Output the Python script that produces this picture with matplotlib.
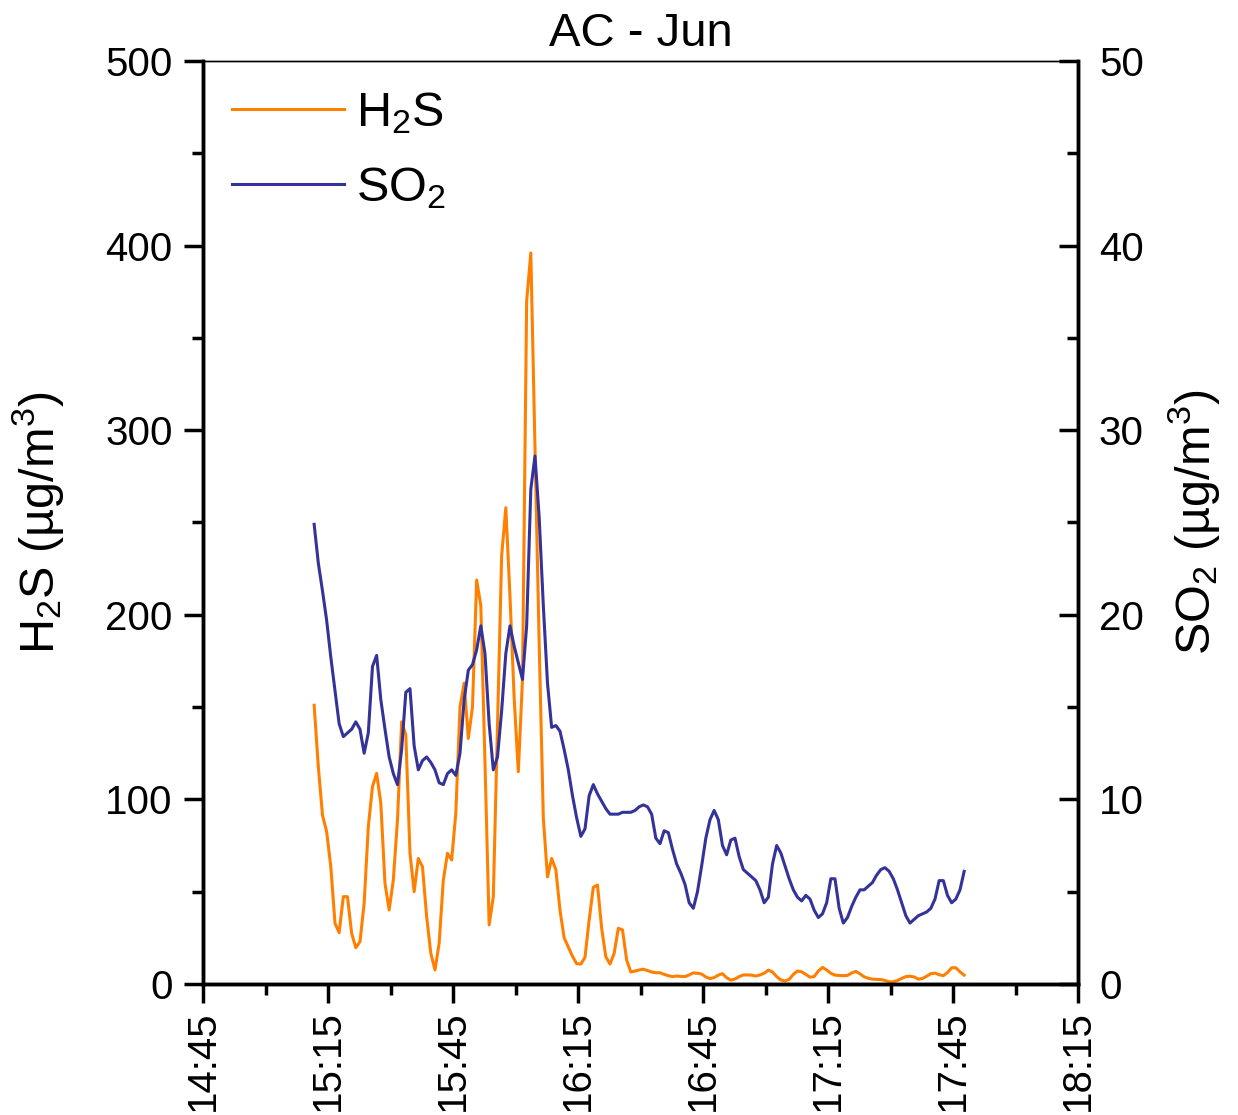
import matplotlib
matplotlib.use("Agg")
import matplotlib.pyplot as plt
from matplotlib.ticker import MultipleLocator, FixedLocator
from matplotlib.lines import Line2D
import numpy as np

plt.rcParams['font.family'] = ['Liberation Sans', 'DejaVu Sans']
plt.rcParams['mathtext.fontset'] = 'custom'
plt.rcParams['mathtext.rm'] = 'Liberation Sans'
plt.rcParams['mathtext.it'] = 'Liberation Sans:italic'

title = "AC - Jun"
start_time = "15:11:40"      # first sample, one sample per minute
h2s = [151, 117.7, 91.5, 82.5, 63.5, 32.9, 27.8, 47.3, 47.3, 27.4,
       19.7, 22.9, 43.7, 85.2, 106.9, 114.1, 97.9, 54.5, 40.1, 56.3,
       88.8, 142, 134.9, 70.8, 50, 68, 63.5, 36.5, 16.6, 7.6,
       22, 56.3, 70.8, 67.2, 92.5, 150, 163, 133, 150, 218.8,
       205, 120, 32, 47.3, 140, 232, 258, 210, 155, 115,
       165, 370, 396, 290, 185, 90, 58, 68, 62, 40,
       25, 20, 15, 11, 10.8, 14.4, 34.7, 52.4, 53.6, 30.2,
       14.8, 10.8, 16.6, 30.2, 29.3, 13, 6.5, 7.0, 7.6, 8.0,
       7.3, 6.5, 6.1, 6.1, 5.2, 4.5, 4.0, 4.3, 4.1, 4.0,
       4.9, 6.0, 5.8, 5.4, 3.8, 2.9, 3.5, 4.8, 5.6, 3.4,
       2.1, 2.7, 4.0, 4.9, 4.9, 4.8, 4.3, 4.9, 5.8, 7.5,
       6.5, 4.0, 2.2, 1.6, 2.5, 5.2, 7.0, 6.6, 5.2, 3.7,
       4.0, 7.0, 9.0, 7.6, 5.8, 4.8, 4.6, 4.5, 4.6, 6.0,
       6.8, 5.5, 3.9, 3.1, 2.6, 2.5, 2.4, 1.9, 1.2, 1.2,
       1.9, 3.0, 4.0, 4.2, 3.8, 2.6, 3.0, 4.2, 5.6, 5.9,
       5.0, 4.5, 6.2, 8.8, 8.8, 6.6, 4.8]
so2 = [24.9, 22.8, 21.3, 19.7, 17.7, 15.9, 14.1, 13.4, 13.6, 13.8,
       14.2, 13.8, 12.5, 13.6, 17.2, 17.8, 15.4, 13.8, 12.3, 11.4,
       10.8, 12.7, 15.8, 16.0, 12.9, 11.6, 12.1, 12.3, 12.0, 11.6,
       10.9, 10.8, 11.4, 11.6, 11.3, 12.5, 15.4, 17.0, 17.3, 18.1,
       19.4, 17.9, 14.1, 11.6, 12.3, 14.8, 17.9, 19.4, 18.3, 17.4,
       16.5, 19.4, 26.8, 28.6, 25.3, 20.5, 16.3, 13.9, 14.0, 13.7,
       12.7, 11.6, 10.2, 9.0, 8.0, 8.4, 10.2, 10.8, 10.3, 9.9,
       9.5, 9.2, 9.2, 9.2, 9.3, 9.3, 9.3, 9.4, 9.6, 9.7,
       9.6, 9.2, 7.9, 7.6, 8.3, 8.2, 7.3, 6.5, 6.0, 5.4,
       4.4, 4.1, 5.0, 6.4, 7.9, 8.9, 9.4, 8.9, 7.5, 7.0,
       7.8, 7.9, 6.9, 6.2, 6.0, 5.8, 5.6, 5.1, 4.4, 4.7,
       6.5, 7.5, 7.1, 6.4, 5.7, 5.1, 4.7, 4.5, 4.8, 4.6,
       4.0, 3.6, 3.8, 4.4, 5.7, 5.7, 4.1, 3.3, 3.6, 4.2,
       4.7, 5.1, 5.1, 5.3, 5.5, 5.9, 6.2, 6.3, 6.1, 5.7,
       5.1, 4.4, 3.7, 3.3, 3.5, 3.7, 3.8, 3.9, 4.1, 4.6,
       5.6, 5.6, 4.8, 4.4, 4.6, 5.1, 6.1]
x_ticklabels = ["14:45", "15:15", "15:45", "16:15", "16:45", "17:15", "17:45", "18:15"]
h2s_ylim = (0, 500)
so2_ylim = (0, 50)


def to_min(s):
    parts = [int(p) for p in s.split(":")]
    m = parts[0] * 60 + parts[1]
    if len(parts) > 2:
        m += parts[2] / 60.0
    return m


t0 = to_min(start_time)
times = t0 + np.arange(len(h2s))
xticks = [to_min(s) for s in x_ticklabels]

c_h2s = "#FF8000"
c_so2 = "#333399"
lw = 2.2

fig = plt.figure(figsize=(12.38, 11.15), dpi=100)
ax = fig.add_axes([0.164, 0.1175, 0.7068, 0.8278])
ax2 = ax.twinx()

ax.plot(times, h2s, color=c_h2s, lw=lw)
ax2.plot(times, so2, color=c_so2, lw=lw)

ax.set_xlim(xticks[0], xticks[-1])
ax.set_ylim(*h2s_ylim)
ax2.set_ylim(*so2_ylim)

ax.xaxis.set_major_locator(FixedLocator(xticks))
ax.set_xticklabels(x_ticklabels)
ax.xaxis.set_minor_locator(MultipleLocator(15))
ax.yaxis.set_major_locator(MultipleLocator(100))
ax.yaxis.set_minor_locator(MultipleLocator(50))
ax2.yaxis.set_major_locator(MultipleLocator(10))
ax2.yaxis.set_minor_locator(MultipleLocator(5))

fs_tick = 29
ax.tick_params(axis='x', which='major', direction='out', length=14, width=2.5,
               labelsize=fs_tick, labelrotation=90, pad=5, top=False)
ax.tick_params(axis='x', which='minor', direction='out', length=8, width=2.5, top=False)
ax.tick_params(axis='y', which='major', direction='out', length=14, width=2.5,
               labelsize=fs_tick, pad=8, right=False)
ax.tick_params(axis='y', which='minor', direction='out', length=8, width=2.5, right=False)
ax2.tick_params(axis='y', which='major', direction='in', length=14, width=2.5,
                labelsize=fs_tick, pad=15)
ax2.tick_params(axis='y', which='minor', direction='in', length=8, width=2.5)

for a in (ax, ax2):
    for side in ('left', 'right', 'bottom'):
        a.spines[side].set_linewidth(2.5)
    a.spines['top'].set_linewidth(1.0)

ax.set_title(title, fontsize=34, pad=11)
ax.set_ylabel("H$_2$S (µg/m$^3$)", fontsize=35, labelpad=28)
ax2.set_ylabel("SO$_2$ (µg/m$^3$)", fontsize=35, labelpad=16)

handles = [Line2D([], [], color=c_h2s, lw=lw), Line2D([], [], color=c_so2, lw=lw)]
ax.legend(handles, ["H$_2$S", "SO$_2$"], loc='upper left', frameon=False,
          fontsize=35, handlelength=2.3, handletextpad=0.25, labelspacing=0.6,
          borderaxespad=0.2, bbox_to_anchor=(0.0, 1.0))

fig.savefig("out.png", dpi=100)
